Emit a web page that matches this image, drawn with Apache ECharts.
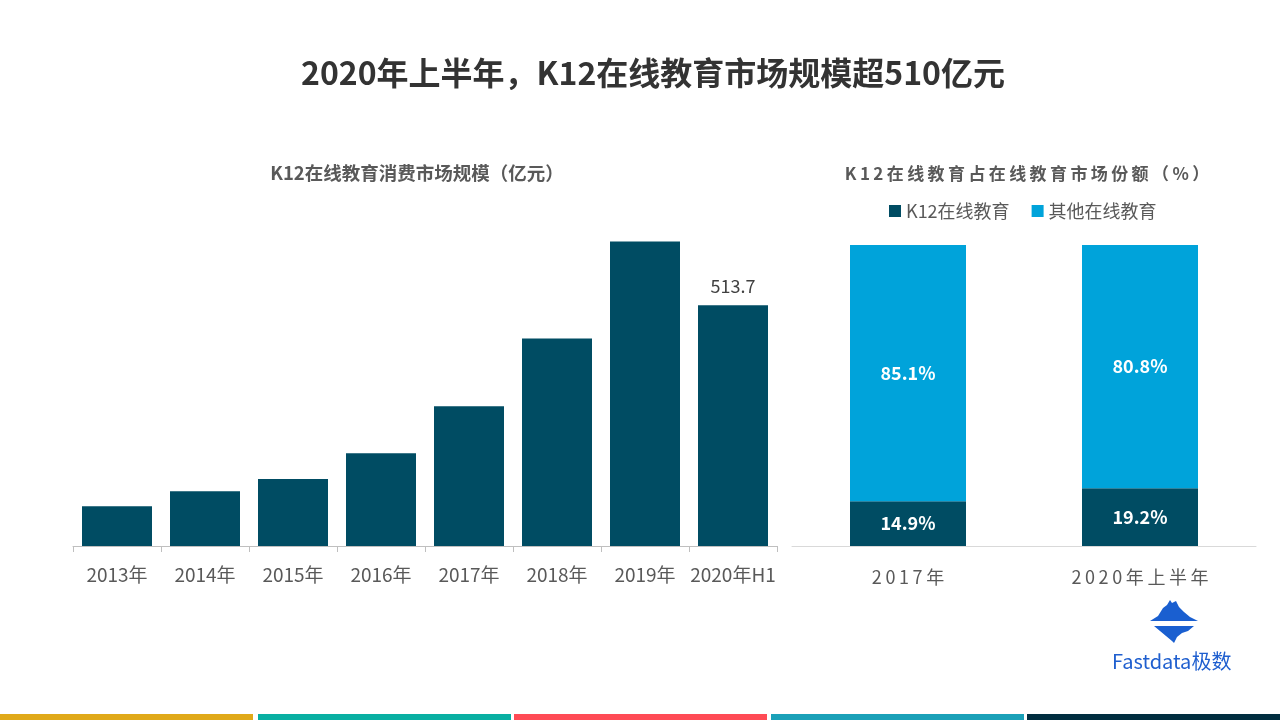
<!DOCTYPE html>
<html><head><meta charset="utf-8">
<script src="https://cdn.jsdelivr.net/npm/echarts@6/dist/echarts.min.js"></script>
<style>html,body{margin:0;padding:0;background:#fff}#c{width:1280px;height:720px}</style>
</head><body><div id="c"></div>
<script>
const years = ['2013年','2014年','2015年','2016年','2017年','2018年','2019年','2020年H1'];
const marketSize = [85, 117, 143, 198, 298, 443, 650, 513.7];
const shareCats = ['2017年','2020年上半年'];
const k12Share = [14.9, 19.2];
const otherShare = [85.1, 80.8];
const cDark = '#004c63', cLight = '#00a3da';
const font = 'Noto Sans CJK SC';
const chart = echarts.init(document.getElementById('c'));
chart.setOption({
  animation:false,
  textStyle:{fontFamily:font},
  title:[
    {text:'2020年上半年，K12在线教育市场规模超510亿元',left:648,top:52,textAlign:'center',
     textStyle:{fontSize:32,fontWeight:'bold',color:'#333333',fontFamily:font}},
    {text:'K12在线教育消费市场规模（亿元）',left:412,top:159,textAlign:'center',
     textStyle:{fontSize:18.5,fontWeight:'bold',color:'#595959',fontFamily:font}},
    {text:'K\u20091\u20092\u2009在\u2009线\u2009教\u2009育\u2009占\u2009在\u2009线\u2009教\u2009育\u2009市\u2009场\u2009份\u2009额\u2009（\u2009%\u2009）',left:1022,top:160,textAlign:'center',
     textStyle:{fontSize:17,fontWeight:'bold',color:'#595959',fontFamily:font}}
  ],
  legend:{data:['K12在线教育','其他在线教育'],left:884,top:197,orient:'horizontal',width:400,
    icon:'rect',itemWidth:12,itemHeight:12,itemGap:22,
    textStyle:{fontSize:18,color:'#595959',fontFamily:font}},
  grid:[
    {left:73,width:704,top:218,height:328},
    {left:792,width:464,top:245,height:301}
  ],
  xAxis:[
    {type:'category',gridIndex:0,data:years,
     axisLine:{lineStyle:{color:'#bfbfbf'}},
     axisTick:{show:true,length:6,lineStyle:{color:'#bfbfbf'}},
     axisLabel:{interval:0,fontSize:19,color:'#595959',margin:19,fontFamily:font}},
    {type:'category',gridIndex:1,data:shareCats,
     axisLine:{lineStyle:{color:'#d9d9d9'}},
     axisTick:{show:false},
     axisLabel:{interval:0,fontSize:18,color:'#595959',margin:22,fontFamily:font,
       formatter:v=>v.split('').join('\u2009')}}
  ],
  yAxis:[
    {type:'value',gridIndex:0,min:0,max:700,show:false,splitLine:{show:false}},
    {type:'value',gridIndex:1,min:0,max:100,show:false,splitLine:{show:false}}
  ],
  series:[
    {type:'bar',xAxisIndex:0,yAxisIndex:0,data:marketSize.map((v,i)=>({value:v,
        label:{show:i===marketSize.length-1}})),
     barWidth:70,itemStyle:{color:cDark},
     label:{position:'top',distance:10,fontSize:18,color:'#404040',formatter:p=>p.value.toFixed(1)}},
    {name:'K12在线教育',type:'bar',stack:'s',xAxisIndex:1,yAxisIndex:1,data:k12Share,barWidth:116,
     itemStyle:{color:cDark},
     label:{show:true,position:'inside',color:'#fff',fontSize:18,fontWeight:'bold',formatter:p=>p.value.toFixed(1)+'%'}},
    {name:'其他在线教育',type:'bar',stack:'s',xAxisIndex:1,yAxisIndex:1,data:otherShare,barWidth:116,
     itemStyle:{color:cLight},
     label:{show:true,position:'inside',color:'#fff',fontSize:18,fontWeight:'bold',formatter:p=>p.value.toFixed(1)+'%'}}
  ],
  graphic:[
    {type:'rect',shape:{x:0,y:714,width:253,height:6},style:{fill:'#e0a919'}},
    {type:'rect',shape:{x:258,y:714,width:253,height:6},style:{fill:'#08afa2'}},
    {type:'rect',shape:{x:514,y:714,width:253,height:6},style:{fill:'#ff4b55'}},
    {type:'rect',shape:{x:771,y:714,width:253,height:6},style:{fill:'#1ba1b8'}},
    {type:'rect',shape:{x:1027,y:714,width:253,height:6},style:{fill:'#012e40'}},
    {type:'polygon',shape:{points:[[1150,621],[1158,616],[1163,608],[1167,605],[1170,600],[1172,603],[1176,601],[1179,607],[1184,612],[1190,617],[1198,621]]},
     style:{fill:'#1a5fd0'}},
    {type:'polygon',shape:{points:[[1154,626],[1194,626],[1188,631],[1182,633],[1177,637],[1174,643],[1172,641],[1166,636],[1160,631]]},
     style:{fill:'#1a5fd0'}},
    {type:'text',left:1112,top:651,style:{text:'Fastdata极数',fontSize:20,fill:'#1f5fcf',fontFamily:font}}
  ]
});
</script></body></html>
